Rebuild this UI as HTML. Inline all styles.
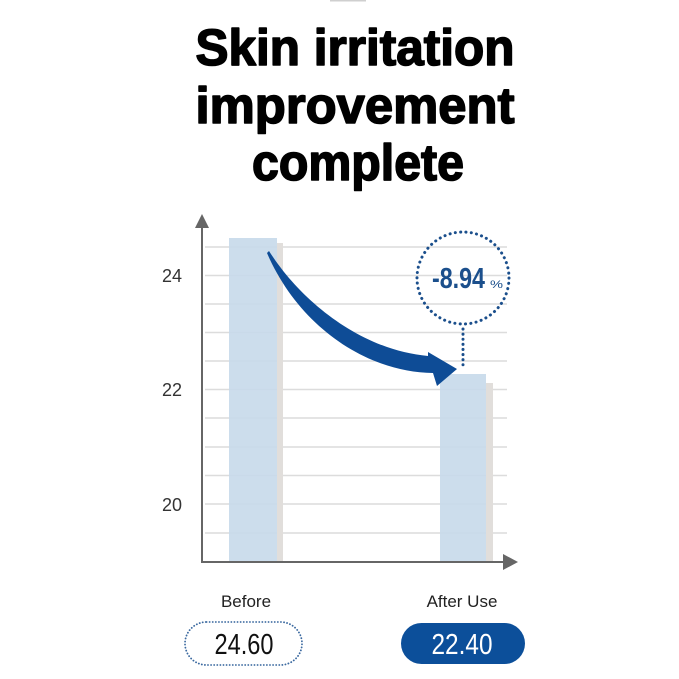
<!DOCTYPE html>
<html>
<head>
<meta charset="utf-8">
<style>
  html, body { margin:0; padding:0; background:#fff; }
  svg { display:block; }
  text { font-family: "Liberation Sans", "DejaVu Sans", sans-serif; }
</style>
</head>
<body>
<svg width="679" height="679" viewBox="0 0 679 679" xmlns="http://www.w3.org/2000/svg">
  <rect width="679" height="679" fill="#ffffff"/>
  <rect x="330" y="0" width="36" height="1.5" fill="#cfcfcf"/>

  <!-- Title -->
  <g font-weight="bold" font-size="51" fill="#000" stroke="#000" stroke-width="1.6" stroke-linejoin="round" text-anchor="middle">
    <text x="355" y="65" textLength="319" lengthAdjust="spacingAndGlyphs">Skin irritation</text>
    <text x="355" y="123" textLength="319" lengthAdjust="spacingAndGlyphs">improvement</text>
    <text x="358" y="180" textLength="212" lengthAdjust="spacingAndGlyphs">complete</text>
  </g>

  <!-- Grid lines -->
  <g stroke="#dcdcdc" stroke-width="1.5">
    <line x1="205" y1="247" x2="507" y2="247"/>
    <line x1="205" y1="275.5" x2="507" y2="275.5"/>
    <line x1="205" y1="304" x2="507" y2="304"/>
    <line x1="205" y1="332.5" x2="507" y2="332.5"/>
    <line x1="205" y1="361" x2="507" y2="361"/>
    <line x1="205" y1="389.5" x2="507" y2="389.5"/>
    <line x1="205" y1="418" x2="507" y2="418"/>
    <line x1="205" y1="447" x2="507" y2="447"/>
    <line x1="205" y1="475.5" x2="507" y2="475.5"/>
    <line x1="205" y1="504" x2="507" y2="504"/>
    <line x1="205" y1="533" x2="507" y2="533"/>
  </g>

  <!-- Bars -->
  <rect x="277" y="243" width="6" height="319" fill="#e1dedb"/>
  <rect x="229" y="238" width="48" height="324" fill="#c6d9ea" fill-opacity="0.9"/>
  <rect x="486" y="383" width="7" height="179" fill="#e1dedb"/>
  <rect x="440" y="374" width="46" height="188" fill="#c6d9ea" fill-opacity="0.9"/>

  <!-- Axes -->
  <line x1="202" y1="226" x2="202" y2="563" stroke="#666" stroke-width="2"/>
  <polygon points="202,214 195,228 209,228" fill="#666"/>
  <line x1="201" y1="562" x2="505" y2="562" stroke="#666" stroke-width="2"/>
  <polygon points="503,554 503,570 518,562" fill="#666"/>

  <!-- Tick labels -->
  <g font-size="18" fill="#333" text-anchor="end">
    <text x="182" y="282">24</text>
    <text x="182" y="396">22</text>
    <text x="182" y="511">20</text>
  </g>

  <!-- Curved arrow -->
  <path d="M269,251 C300,300 360,350 428,356 L428,352 L457,369 L437,386 L433,373 C365,372 298,325 267,253 Z" fill="#0e4c96"/>

  <!-- Dotted circle & connector -->
  <circle cx="463" cy="278" r="46" fill="none" stroke="#1b4f8c" stroke-width="3" stroke-linecap="round" stroke-dasharray="0.1 5.25"/>
  <line x1="463" y1="329" x2="463" y2="368" stroke="#1b4f8c" stroke-width="3" stroke-linecap="round" stroke-dasharray="0.1 5"/>
  <text x="432" y="288" font-size="29" font-weight="bold" fill="#1b4f8c" textLength="53" lengthAdjust="spacingAndGlyphs">-8.94</text>
  <text x="490" y="288" font-size="11" fill="#1b4f8c" textLength="13" lengthAdjust="spacingAndGlyphs">%</text>

  <!-- Category labels -->
  <g font-size="17" fill="#222" text-anchor="middle">
    <text x="246" y="607">Before</text>
    <text x="462" y="607">After Use</text>
  </g>

  <!-- Value pills -->
  <rect x="185" y="622" width="117" height="43" rx="21.5" fill="#fff" stroke="#3c6aa0" stroke-width="1.8" stroke-linecap="round" stroke-dasharray="0.1 3"/>
  <text x="244" y="654" font-size="29" fill="#111" text-anchor="middle" textLength="59" lengthAdjust="spacingAndGlyphs">24.60</text>

  <rect x="401" y="623" width="124" height="41" rx="20.5" fill="#0c4f9a"/>
  <text x="462" y="654" font-size="29" fill="#fff" text-anchor="middle" textLength="61" lengthAdjust="spacingAndGlyphs">22.40</text>
</svg>
</body>
</html>
